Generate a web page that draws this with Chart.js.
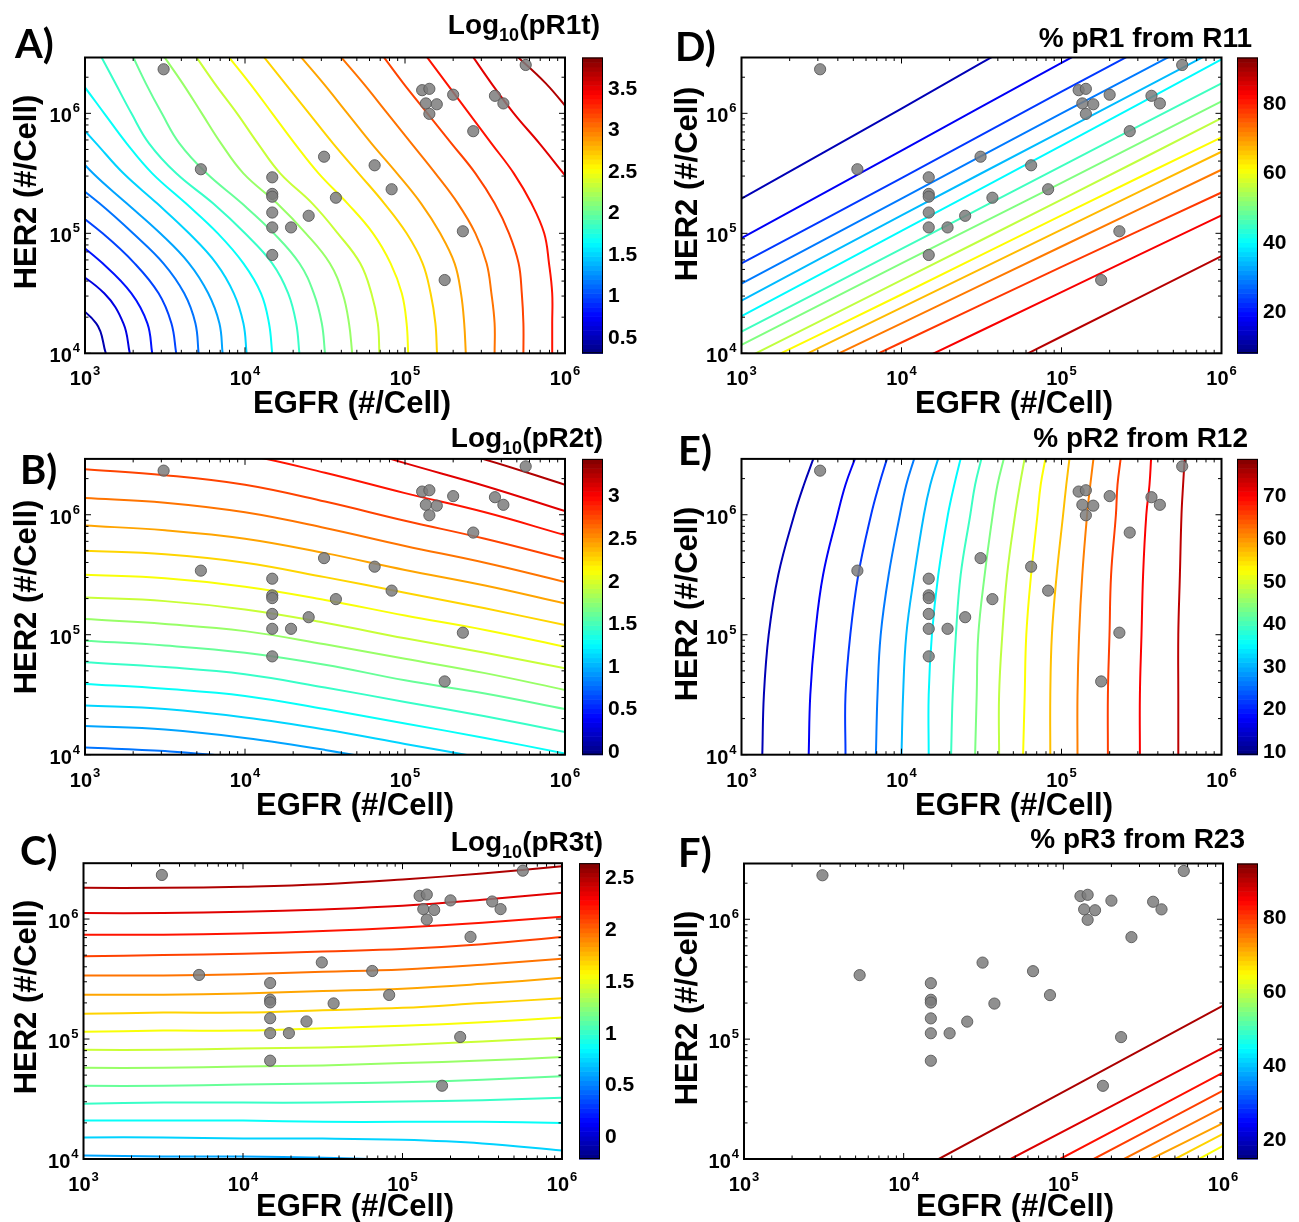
<!DOCTYPE html>
<html>
<head>
<meta charset="utf-8">
<script src="https://cdn.jsdelivr.net/npm/chart.js@4.4.1/dist/chart.umd.min.js"></script>
<style>
  html, body { margin: 0; padding: 0; background: #fff; }
  #page { position: relative; width: 1299px; height: 1222px; overflow: hidden; background: #fff; }
  #page canvas { position: absolute; left: 0; top: 0; }
</style>
</head>
<body>
<div id="page"></div>
<script>
// ---- Cell lines: receptor numbers per cell ----
const cellEGFR = [3.1e3, 5.3e3, 1.48e4, 1.48e4, 1.48e4, 1.48e4, 1.48e4, 1.48e4, 1.94e4, 2.5e4, 3.12e4, 3.7e4, 6.46e4,
  8.25e4, 1.28e5, 1.42e5, 1.35e5, 1.58e5, 1.42e5, 2.0e5, 2.67e5, 2.3e5, 1.77e5, 3.65e5, 4.12e5, 5.68e5];
const cellHER2 = [2.33e6, 3.42e5, 2.93e5, 2.13e5, 2.02e5, 1.49e5, 1.12e5, 6.6e4, 1.12e5, 1.40e5, 4.35e5, 1.98e5, 3.69e5,
  2.33e5, 1.56e6, 1.60e6, 1.21e6, 1.19e6, 9.9e5, 1.43e6, 7.1e5, 1.04e5, 4.08e4, 1.40e6, 1.21e6, 2.53e6];

// axis limits
const egfrRange = [1e3, 1e6];
const her2Range = [1e4, 2.92e6];
const egfrTickExp = [3, 4, 5, 6];
const her2TickExp = [4, 5, 6];

// ---- A) Log10(pR1t): log10 EGFR of each contour at the listed log10 HER2 levels ----
const A_her2Log = [4, 4.25, 4.5, 4.75, 5, 5.25, 5.5, 5.75, 6, 6.25, 6.5];
const A_egfrLog = [
  [3.13, 3.07, 2.85, null, null, null, null, null, null, null, null],
  [3.28, 3.24, 3.12, 2.87, null, null, null, null, null, null, null],
  [3.42, 3.39, 3.29, 3.11, 2.88, null, null, null, null, null, null],
  [3.57, 3.54, 3.46, 3.31, 3.11, 2.87, null, null, null, null, null],
  [3.71, 3.69, 3.62, 3.49, 3.30, 3.09, 2.85, null, null, null, null],
  [3.86, 3.84, 3.77, 3.65, 3.47, 3.26, 3.05, 2.88, null, null, null],
  [4.01, 3.99, 3.93, 3.82, 3.65, 3.45, 3.24, 3.07, 2.90, null, null],
  [4.17, 4.15, 4.10, 3.99, 3.83, 3.63, 3.42, 3.26, 3.12, 2.98, 2.83],
  [4.34, 4.32, 4.27, 4.17, 4.00, 3.80, 3.57, 3.40, 3.29, 3.19, 3.09],
  [4.50, 4.48, 4.43, 4.34, 4.18, 3.98, 3.76, 3.59, 3.48, 3.38, 3.29],
  [4.67, 4.65, 4.61, 4.53, 4.38, 4.20, 3.99, 3.85, 3.73, 3.61, 3.48],
  [4.84, 4.83, 4.79, 4.72, 4.58, 4.42, 4.22, 4.08, 3.95, 3.81, 3.68],
  [5.02, 5.01, 4.98, 4.91, 4.80, 4.64, 4.46, 4.31, 4.17, 4.03, 3.88],
  [5.20, 5.19, 5.16, 5.11, 5.01, 4.87, 4.71, 4.55, 4.40, 4.25, 4.10],
  [5.38, 5.37, 5.35, 5.31, 5.22, 5.10, 4.95, 4.79, 4.64, 4.49, 4.33],
  [5.56, 5.56, 5.54, 5.51, 5.44, 5.33, 5.19, 5.04, 4.89, 4.74, 4.58],
  [5.74, 5.74, 5.73, 5.71, 5.65, 5.56, 5.44, 5.29, 5.14, 4.99, 4.85],
  [5.92, 5.92, 5.92, 5.90, 5.87, 5.79, 5.68, 5.54, 5.40, 5.26, 5.12],
  [null, null, null, null, null, 6.14, 5.99, 5.84, 5.68, 5.54, 5.41],
  [null, null, null, null, null, null, null, null, 6.04, 5.88, 5.68]
];
const A_levels = [0.47, 0.64, 0.81, 0.98, 1.15, 1.32, 1.49, 1.66, 1.83, 2.0, 2.17, 2.34, 2.51, 2.68, 2.85, 3.02, 3.19, 3.36, 3.53, 3.70];
const A_cbRange = [0.30, 3.87];
const A_cbTicks = [0.5, 1, 1.5, 2, 2.5, 3, 3.5];

// ---- B) Log10(pR2t): log10 HER2 of each contour at the listed log10 EGFR values ----
const B_egfrLog = [3, 3.5, 4, 4.5, 5, 5.5, 6];
const B_her2Log = [
  [4.06, 4.03, 3.97, 3.86, null, null, null],
  [4.24, 4.21, 4.14, 4.04, 3.92, null, null],
  [4.41, 4.38, 4.31, 4.21, 4.09, 3.97, 3.84],
  [4.59, 4.55, 4.49, 4.38, 4.26, 4.14, 4.01],
  [4.77, 4.73, 4.67, 4.56, 4.44, 4.32, 4.19],
  [4.95, 4.91, 4.85, 4.75, 4.62, 4.51, 4.38],
  [5.13, 5.09, 5.03, 4.92, 4.80, 4.68, 4.54],
  [5.31, 5.28, 5.21, 5.10, 4.97, 4.85, 4.72],
  [5.50, 5.47, 5.40, 5.29, 5.16, 5.04, 4.90],
  [5.70, 5.67, 5.60, 5.48, 5.35, 5.22, 5.08],
  [5.91, 5.87, 5.80, 5.68, 5.54, 5.41, 5.26],
  [6.14, 6.10, 6.02, 5.89, 5.74, 5.60, 5.44],
  [6.38, 6.33, 6.25, 6.11, 5.95, 5.80, 5.63],
  [6.63, 6.59, 6.50, 6.35, 6.18, 6.02, 5.83],
  [null, null, 6.80, 6.63, 6.43, 6.24, 6.03],
  [null, null, null, 6.83, 6.64, 6.46, 6.25]
];
const B_levels = [0.79, 0.95, 1.12, 1.28, 1.45, 1.61, 1.78, 1.94, 2.11, 2.27, 2.44, 2.60, 2.77, 2.93, 3.10, 3.26];
const B_cbRange = [-0.04, 3.43];
const B_cbTicks = [0, 0.5, 1, 1.5, 2, 2.5, 3];

// ---- C) Log10(pR3t) ----
const C_egfrLog = [3, 3.5, 4, 4.5, 5, 5.5, 6];
const C_her2Log = [
  [6.26, 6.26, 6.27, 6.29, 6.33, 6.38, 6.44],
  [6.05, 6.05, 6.06, 6.08, 6.11, 6.16, 6.22],
  [5.87, 5.87, 5.88, 5.90, 5.93, 5.97, 6.02],
  [5.69, 5.70, 5.71, 5.73, 5.75, 5.79, 5.85],
  [5.53, 5.53, 5.54, 5.56, 5.58, 5.62, 5.67],
  [5.37, 5.37, 5.38, 5.40, 5.42, 5.46, 5.51],
  [5.21, 5.22, 5.22, 5.24, 5.26, 5.30, 5.34],
  [5.06, 5.07, 5.07, 5.09, 5.11, 5.14, 5.18],
  [4.91, 4.91, 4.92, 4.93, 4.95, 4.98, 5.01],
  [4.76, 4.76, 4.77, 4.78, 4.80, 4.82, 4.85],
  [4.61, 4.61, 4.62, 4.63, 4.64, 4.66, 4.69],
  [4.46, 4.47, 4.47, 4.47, 4.48, 4.49, 4.51],
  [4.32, 4.32, 4.32, 4.31, 4.31, 4.31, 4.30],
  [4.18, 4.18, 4.17, 4.17, 4.16, 4.13, 4.07],
  [4.03, 4.02, 4.02, 4.01, 3.99, 3.95, 3.86]
];
const C_levels = [2.51, 2.37, 2.23, 2.10, 1.96, 1.82, 1.69, 1.55, 1.42, 1.28, 1.14, 1.01, 0.87, 0.73, 0.60];
const C_cbRange = [-0.22, 2.64];
const C_cbTicks = [0, 0.5, 1, 1.5, 2, 2.5];

// ---- D) % pR1 from R11 ----
const D_egfrLog = [3, 4, 5, 6];
const D_her2Log = [
  [5.29, 6.04, 6.80, 7.55],
  [4.96, 5.69, 6.42, 7.15],
  [4.75, 5.46, 6.18, 6.89],
  [4.58, 5.29, 6.00, 6.70],
  [4.44, 5.15, 5.85, 6.55],
  [4.31, 5.02, 5.73, 6.45],
  [4.18, 4.87, 5.56, 6.25],
  [4.07, 4.75, 5.42, 6.10],
  [3.94, 4.61, 5.28, 5.96],
  [3.84, 4.49, 5.15, 5.80],
  [3.73, 4.38, 5.03, 5.68],
  [3.61, 4.25, 4.89, 5.53],
  [3.46, 4.09, 4.72, 5.34],
  [3.23, 3.87, 4.51, 5.15],
  [2.81, 3.47, 4.14, 4.81]
];
const D_levels = [12.5, 17.9, 23.4, 28.8, 34.2, 39.6, 45.1, 50.5, 55.9, 61.3, 66.8, 72.2, 77.6, 83.0, 88.5];
const D_cbRange = [8, 93];
const D_cbTicks = [20, 40, 60, 80];

// ---- E) % pR2 from R12: log10 EGFR of each contour at the listed log10 HER2 levels ----
const E_her2Log = [4, 4.5, 5, 5.5, 6, 6.25, 6.47];
const E_egfrLog = [
  [3.13, 3.14, 3.17, 3.23, 3.33, 3.39, 3.45],
  [3.42, 3.43, 3.46, 3.51, 3.60, 3.65, 3.71],
  [3.65, 3.65, 3.68, 3.73, 3.81, 3.86, 3.91],
  [3.84, 3.85, 3.87, 3.92, 3.99, 4.03, 4.08],
  [4.00, 4.01, 4.03, 4.08, 4.14, 4.18, 4.23],
  [4.17, 4.17, 4.19, 4.23, 4.29, 4.33, 4.37],
  [4.31, 4.32, 4.34, 4.37, 4.43, 4.46, 4.50],
  [4.46, 4.47, 4.48, 4.52, 4.57, 4.60, 4.64],
  [4.61, 4.61, 4.63, 4.66, 4.71, 4.74, 4.77],
  [4.76, 4.77, 4.78, 4.81, 4.85, 4.87, 4.90],
  [4.93, 4.93, 4.94, 4.97, 5.01, 5.03, 5.05],
  [5.10, 5.10, 5.11, 5.13, 5.16, 5.18, 5.20],
  [5.29, 5.29, 5.30, 5.31, 5.34, 5.35, 5.37],
  [5.49, 5.49, 5.50, 5.51, 5.53, 5.55, 5.56],
  [5.73, 5.73, 5.73, 5.74, 5.75, 5.76, 5.77]
];
const E_levels = [12.9, 17.3, 21.7, 26.1, 30.5, 34.9, 39.3, 43.7, 48.1, 52.5, 56.9, 61.3, 65.7, 70.1, 74.5];
const E_cbRange = [9.2, 78.6];
const E_cbTicks = [10, 20, 30, 40, 50, 60, 70];

// ---- F) % pR3 from R23: [log10 EGFR, log10 HER2] end points of each contour ----
const F_lines = [
  [[4.22, 4.0], [6.0, 5.28]],
  [[4.67, 4.0], [6.0, 4.93]],
  [[4.98, 4.0], [6.0, 4.72]],
  [[5.19, 4.0], [6.0, 4.57]],
  [[5.38, 4.0], [6.0, 4.43]],
  [[5.55, 4.0], [6.0, 4.30]],
  [[5.70, 4.0], [6.0, 4.21]],
  [[5.85, 4.0], [6.0, 4.11]]
];
const F_levels = [91.2, 87.4, 83.5, 79.7, 75.8, 72.0, 68.1, 64.3];
const F_cbRange = [14.5, 94.7];
const F_cbTicks = [20, 40, 60, 80];

// ---------------------------------------------------------------------------
const PAGE_W = 1299, PAGE_H = 1222;
const FONT = '"Liberation Sans", Arial, Helvetica, sans-serif';

function jet(t) {
  t = Math.min(1, Math.max(0, t));
  const c = v => Math.round(255 * Math.min(1, Math.max(0, v)));
  return `rgb(${c(1.5 - Math.abs(4 * t - 3))},${c(1.5 - Math.abs(4 * t - 2))},${c(1.5 - Math.abs(4 * t - 1))})`;
}
const toPoints = pairs => pairs
  .filter(p => p[0] != null && p[1] != null)
  .map(([e, h]) => ({ x: Math.pow(10, e), y: Math.pow(10, h) }));
const linesAlongHer2 = (grid, rows) => rows.map(r => toPoints(r.map((e, i) => [e, grid[i]])));
const linesAlongEgfr = (grid, rows) => rows.map(r => toPoints(grid.map((e, i) => [e, r[i]])));

const panels = [
  { key: 'A', area: [85, 57.5, 565, 353.3], cbX: 582, letter: ['A)', 15, 58],
    title: { sub: '(pR1t)', x: 600, y: 34 }, xlab: [352, 413], ylab: [27, 192],
    lines: linesAlongHer2(A_her2Log, A_egfrLog), levels: A_levels, range: A_cbRange, ticks: A_cbTicks },
  { key: 'B', area: [85, 458.9, 565, 754.7], cbX: 582, letter: ['B)', 20, 484],
    title: { sub: '(pR2t)', x: 603, y: 447 }, xlab: [355, 815], ylab: [27, 597],
    lines: linesAlongEgfr(B_egfrLog, B_her2Log), levels: B_levels, range: B_cbRange, ticks: B_cbTicks },
  { key: 'C', area: [83.5, 863.2, 562, 1159], cbX: 579, letter: ['C)', 20, 865],
    title: { sub: '(pR3t)', x: 603, y: 851 }, xlab: [355, 1216], ylab: [27, 997],
    lines: linesAlongEgfr(C_egfrLog, C_her2Log), levels: C_levels, range: C_cbRange, ticks: C_cbTicks },
  { key: 'D', area: [741.5, 57.5, 1221.5, 353.3], cbX: 1237, letter: ['D)', 675, 61],
    title: { text: '% pR1 from R11', x: 1252, y: 47 }, xlab: [1014, 413], ylab: [688, 184],
    lines: linesAlongEgfr(D_egfrLog, D_her2Log), levels: D_levels, range: D_cbRange, ticks: D_cbTicks },
  { key: 'E', area: [741.5, 458.9, 1221.5, 754.7], cbX: 1237, letter: ['E)', 678, 465],
    title: { text: '% pR2 from R12', x: 1248, y: 447 }, xlab: [1014, 815], ylab: [688, 604],
    lines: linesAlongHer2(E_her2Log, E_egfrLog), levels: E_levels, range: E_cbRange, ticks: E_cbTicks },
  { key: 'F', area: [744, 863.5, 1223, 1159], cbX: 1237, letter: ['F)', 678, 867],
    title: { text: '% pR3 from R23', x: 1245, y: 848 }, xlab: [1015, 1216], ylab: [688, 1008],
    lines: F_lines.map(toPoints), levels: F_levels, range: F_cbRange, ticks: F_cbTicks }
];

function drawPow(ctx, exp, x, baseY, align) {
  const big = `bold 20px ${FONT}`, small = `bold 13px ${FONT}`;
  ctx.font = big; const w1 = ctx.measureText('10').width;
  ctx.font = small; const w2 = ctx.measureText(String(exp)).width;
  const total = w1 + 1 + w2;
  const x0 = align === 'center' ? x - total / 2 : x - total;
  ctx.textAlign = 'left';
  ctx.font = big; ctx.fillText('10', x0, baseY);
  ctx.font = small; ctx.fillText(String(exp), x0 + w1 + 1, baseY - 10);
}

function makeDecor(p) {
  return {
    id: 'decor' + p.key,
    afterDraw(chart) {
      const ctx = chart.ctx, a = chart.chartArea;
      const xs = chart.scales.x, ys = chart.scales.y, cb = chart.scales.cb;
      ctx.save();
      ctx.fillStyle = '#000';
      ctx.strokeStyle = '#000';
      ctx.textBaseline = 'alphabetic';

      // minor / major tick marks on all four sides, pointing inward
      ctx.lineWidth = 1;
      ctx.beginPath();
      for (let d = 3; d <= 6; d++) {
        for (let m = 1; m <= 9; m++) {
          const v = m * Math.pow(10, d);
          if (v > egfrRange[1] * 1.0001) break;
          const px = xs.getPixelForValue(v);
          const len = m === 1 ? 6 : 3.5;
          ctx.moveTo(px, a.bottom); ctx.lineTo(px, a.bottom - len);
          ctx.moveTo(px, a.top); ctx.lineTo(px, a.top + len);
        }
      }
      for (let d = 4; d <= 6; d++) {
        for (let m = 1; m <= 9; m++) {
          const v = m * Math.pow(10, d);
          if (v > her2Range[1]) break;
          const py = ys.getPixelForValue(v);
          const len = m === 1 ? 6 : 3.5;
          ctx.moveTo(a.left, py); ctx.lineTo(a.left + len, py);
          ctx.moveTo(a.right, py); ctx.lineTo(a.right - len, py);
        }
      }
      ctx.stroke();

      // axes box
      ctx.lineWidth = 2;
      ctx.strokeRect(a.left, a.top, a.right - a.left, a.bottom - a.top);

      // tick labels
      egfrTickExp.forEach(e => drawPow(ctx, e, xs.getPixelForValue(Math.pow(10, e)), a.bottom + 32, 'center'));
      her2TickExp.forEach(e => drawPow(ctx, e, a.left - 5, ys.getPixelForValue(Math.pow(10, e)) + 9, 'right'));

      // axis titles
      ctx.font = `bold 31px ${FONT}`;
      ctx.textAlign = 'center';
      ctx.fillText('EGFR (#/Cell)', p.xlab[0], p.xlab[1]);
      ctx.save();
      ctx.translate(p.ylab[0], p.ylab[1]);
      ctx.rotate(-Math.PI / 2);
      ctx.textBaseline = 'middle';
      ctx.fillText('HER2 (#/Cell)', 0, 0);
      ctx.restore();

      // panel letter
      ctx.textAlign = 'left';
      ctx.font = `bold 40px Lato, "Open Sans", ${FONT}`;
      ctx.fillText(p.letter[0], p.letter[1], p.letter[2]);

      // colour-bar title
      if (p.title.text) {
        ctx.font = `bold 28px ${FONT}`;
        ctx.textAlign = 'right';
        ctx.fillText(p.title.text, p.title.x, p.title.y);
      } else {
        const big = `bold 28px ${FONT}`, small = `bold 18px ${FONT}`;
        ctx.font = big; const w1 = ctx.measureText('Log').width, w3 = ctx.measureText(p.title.sub).width;
        ctx.font = small; const w2 = ctx.measureText('10').width;
        let x0 = p.title.x - (w1 + w2 + w3);
        ctx.textAlign = 'left';
        ctx.font = big; ctx.fillText('Log', x0, p.title.y);
        ctx.font = small; ctx.fillText('10', x0 + w1, p.title.y + 7);
        ctx.font = big; ctx.fillText(p.title.sub, x0 + w1 + w2, p.title.y);
      }

      // colour bar (jet, 64 bands) positioned by its own value scale
      const cbW = 21;
      const yTop = cb.getPixelForValue(p.range[1]);
      const yBot = cb.getPixelForValue(p.range[0]);
      const n = 64, h = (yBot - yTop) / n;
      for (let i = 0; i < n; i++) {
        ctx.fillStyle = jet((i + 0.5) / n);
        ctx.fillRect(p.cbX, yBot - (i + 1) * h, cbW, h + 0.6);
      }
      ctx.lineWidth = 1;
      ctx.strokeStyle = '#000';
      ctx.strokeRect(p.cbX + 0.5, yTop + 0.5, cbW - 1, yBot - yTop - 1);
      ctx.fillStyle = '#000';
      ctx.font = `bold 21px ${FONT}`;
      ctx.textAlign = 'left';
      ctx.textBaseline = 'middle';
      p.ticks.forEach(v => {
        const y = cb.getPixelForValue(v);
        ctx.fillText(String(v), p.cbX + cbW + 5, y + 1);
      });
      ctx.restore();
    }
  };
}

const page = document.getElementById('page');
panels.forEach(p => {
  const canvas = document.createElement('canvas');
  canvas.width = PAGE_W; canvas.height = PAGE_H;
  canvas.style.width = PAGE_W + 'px'; canvas.style.height = PAGE_H + 'px';
  page.appendChild(canvas);

  const span = p.range[1] - p.range[0];
  const contourSets = p.lines.map((pts, i) => ({
    data: pts,
    showLine: true,
    borderColor: jet((p.levels[i] - p.range[0]) / span),
    borderWidth: 2,
    pointRadius: 0,
    tension: 0.4,
    fill: false,
    order: 1
  }));
  const cellSet = {
    data: cellEGFR.map((x, i) => ({ x, y: cellHER2[i] })),
    showLine: false,
    pointRadius: 5.6,
    pointBackgroundColor: 'rgba(125,125,125,0.85)',
    pointBorderColor: 'rgba(88,88,88,0.9)',
    pointBorderWidth: 1,
    order: -1
  };

  new Chart(canvas, {
    type: 'scatter',
    data: { datasets: [...contourSets, cellSet] },
    options: {
      responsive: false,
      animation: false,
      events: [],
      devicePixelRatio: 1,
      layout: { padding: { left: p.area[0], top: p.area[1], right: PAGE_W - p.area[2], bottom: PAGE_H - p.area[3] } },
      elements: { line: { capBezierPoints: false, borderCapStyle: 'round' } },
      scales: {
        x: { type: 'logarithmic', min: egfrRange[0], max: egfrRange[1], display: false },
        y: { type: 'logarithmic', min: her2Range[0], max: her2Range[1], display: false },
        cb: { type: 'linear', position: 'right', min: p.range[0], max: p.range[1], display: false }
      },
      plugins: { legend: { display: false }, tooltip: { enabled: false } }
    },
    plugins: [makeDecor(p)]
  });
});
</script>
</body>
</html>
